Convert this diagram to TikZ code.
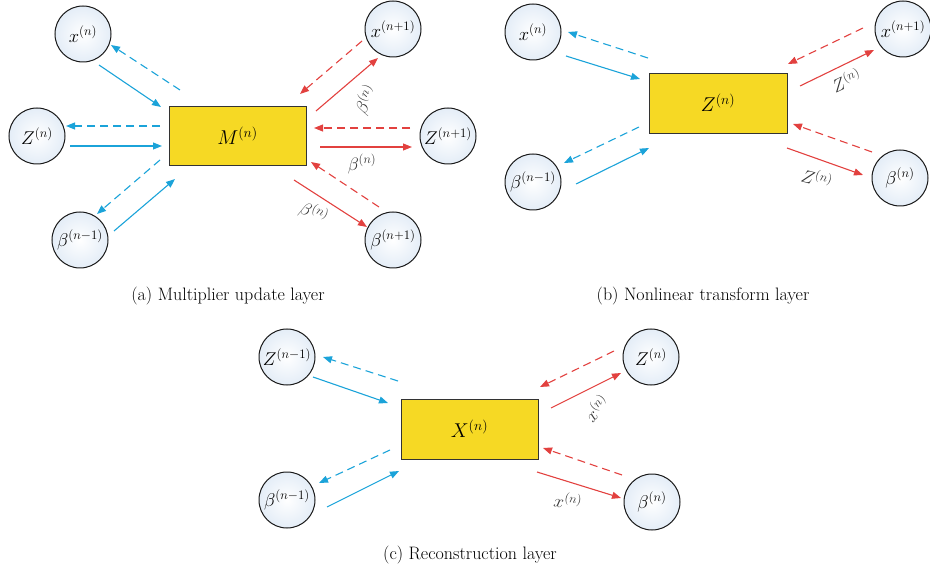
\documentclass[tikz,border=0pt]{standalone}
\usepackage{fix-cm}
\usetikzlibrary{arrows.meta}
\definecolor{cblue}{HTML}{1BA3D9}
\definecolor{cred}{HTML}{E2413F}
\definecolor{boxy}{HTML}{F6D924}
\definecolor{cfill}{HTML}{E4EDF7}
\newcommand{\arrw}[4]{\coordinate (#1-s) at (#3); \coordinate (#1-e) at (#4); \draw[#2] (#1-s) -- (#1-e);}
\begin{document}
\begin{tikzpicture}[x=1pt,y=-1pt,
  vert/.style={circle, draw=black!90, line width=1pt, minimum size=56pt, inner sep=0pt,
    inner color=white, outer color=cfill, font=\fontsize{18.5}{20}\selectfont},
  layerbox/.style={draw=black!80, line width=0.9pt, fill=boxy, minimum width=137pt,
    minimum height=59pt, inner sep=0pt, font=\fontsize{20}{22}\selectfont},
  bsolid/.style={draw=cblue, line width=1.1pt, -{Triangle[length=9pt,width=7pt]}},
  bdash/.style={bsolid, dash pattern=on 8pt off 5pt},
  rsolid/.style={draw=cred, line width=1.1pt, -{Triangle[length=9pt,width=7pt]}},
  rdash/.style={rsolid, dash pattern=on 8pt off 5pt},
  elab/.style={font=\fontsize{18}{20}\selectfont, text=black!80, inner sep=0pt},
  capt/.style={font=\fontsize{18}{20}\selectfont, inner sep=0pt}]
\useasboundingbox (0,0) rectangle (930,572);
% ---------- (a) ----------
\node[layerbox] (M) at (237.5,135.5) {$M^{(n)}$};
\node[vert] (ax) at (83,34) {$x^{(n)}$};
\node[vert] (az) at (37,136) {$Z^{(n)}$};
\node[vert] (ab) at (80,240) {$\beta^{(n-1)}$};
\node[vert] (ax1) at (393,29) {$x^{(n+1)}$};
\node[vert] (az1) at (448,136) {$Z^{(n+1)}$};
\node[vert] (ab1) at (393,240) {$\beta^{(n+1)}$};
\arrw{a1}{bdash}{180,90}{111,45}
\arrw{a2}{bsolid}{99,65}{161,107}
\arrw{a3}{bdash}{160,126}{66,126}
\arrw{a4}{bsolid}{70,146}{162,146}
\arrw{a5}{bdash}{160,160}{97,214}
\arrw{a6}{bsolid}{114,231}{175,179}
\arrw{a7}{rdash}{362,41}{300,94}
\arrw{a8}{rsolid}{316,111}{378,58}
\arrw{a9}{rdash}{410,128}{314,128}
\arrw{a10}{rsolid}{320,147}{412,147}
\arrw{a11}{rdash}{379,207}{311,162}
\arrw{a12}{rsolid}{294,180}{367,227}
\node[elab, rotate=62] (la1) at (366,100) {$\beta^{(n)}$};
\node[elab] (la2) at (362,164) {$\beta^{(n)}$};
\node[elab, rotate=-25] (la3) at (314,213) {$\beta^{(n)}$};
\node[capt] (ca) at (228,296) {(a) Multiplier update layer};
% ---------- (b) ----------
\node[layerbox, minimum width=138pt, minimum height=60pt] (Zb) at (718,103) {$Z^{(n)}$};
\node[vert] (bx) at (533,32) {$x^{(n)}$};
\node[vert] (bb) at (533,182) {$\beta^{(n-1)}$};
\node[vert] (bx1) at (903,29) {$x^{(n+1)}$};
\node[vert] (bb1) at (900,178) {$\beta^{(n)}$};
\arrw{b1}{bdash}{648,58}{568,32}
\arrw{b2}{bsolid}{566,56}{640,79}
\arrw{b3}{bdash}{639,127}{564,163}
\arrw{b4}{bsolid}{576,184}{649,148}
\arrw{b5}{rdash}{863,28}{788,64}
\arrw{b6}{rsolid}{800,86}{874,50}
\arrw{b7}{rdash}{872,152}{793,124}
\arrw{b8}{rsolid}{787,148}{863,175}
\node[elab, rotate=25] (lb1) at (846,80) {$Z^{(n)}$};
\node[elab, rotate=-15] (lb2) at (817,178) {$Z^{(n)}$};
\node[capt] (cb) at (703,296) {(b) Nonlinear transform layer};
% ---------- (c) ----------
\node[layerbox, minimum height=60pt] (Xc) at (469.5,429) {$X^{(n)}$};
\node[vert] (cz) at (287,357) {$Z^{(n-1)}$};
\node[vert] (cb0) at (287,500) {$\beta^{(n-1)}$};
\node[vert] (cz1) at (651,357) {$Z^{(n)}$};
\node[vert] (cb1) at (652,502) {$\beta^{(n)}$};
\arrw{c1}{bdash}{398,381}{323,357}
\arrw{c2}{bsolid}{313,377}{388,403}
\arrw{c3}{bdash}{390,450}{319,483}
\arrw{c4}{bsolid}{327,507}{399,471}
\arrw{c5}{rdash}{614,351}{540,387}
\arrw{c6}{rsolid}{551,408}{621,373}
\arrw{c7}{rdash}{622,475}{543,448}
\arrw{c8}{rsolid}{537,472}{621,498}
\node[elab, rotate=48] (lc1) at (596,408) {$x^{(n)}$};
\node[elab, rotate=-10] (lc2) at (568,501) {$x^{(n)}$};
\node[capt] (cc) at (470,555) {(c) Reconstruction layer};
\end{tikzpicture}
\end{document}
